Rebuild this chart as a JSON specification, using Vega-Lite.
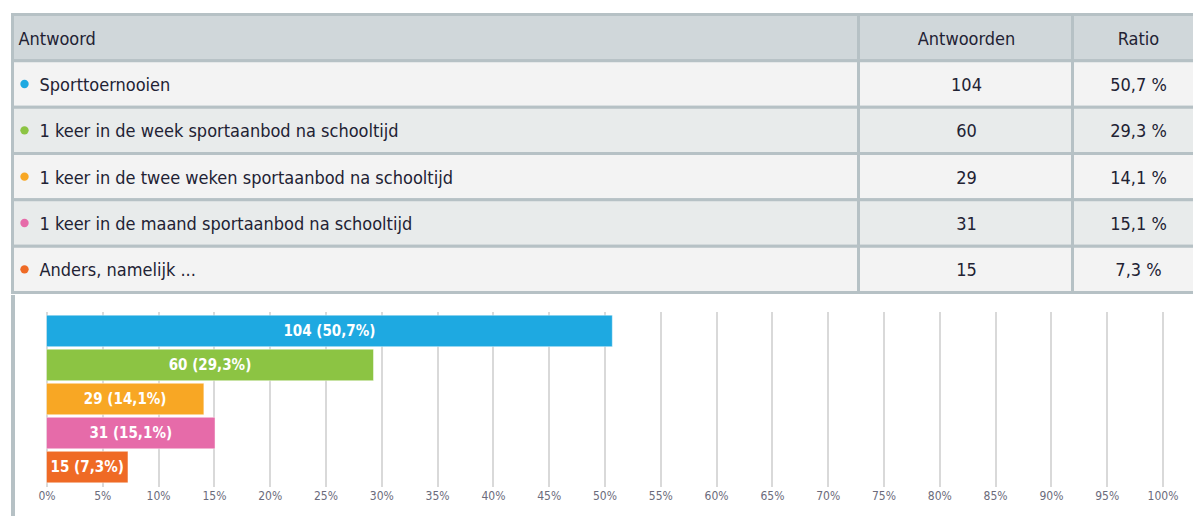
{
  "$schema": "https://vega.github.io/schema/vega-lite/v6.json",
  "padding": {"left": 10.5, "top": 12.5, "right": 0, "bottom": 0},
  "background": "#ffffff",
  "spacing": 0,
  "config": {
    "view": {"stroke": null},
    "font": "DejaVu Sans Condensed, Liberation Sans, sans-serif",
    "concat": {"spacing": 0}
  },
  "datasets": {
    "table": [
      {"key": "h", "c1": "Antwoord", "c2": "Antwoorden", "c3": "Ratio", "kind": "header", "answer": null},
      {"key": "1", "c1": "Sporttoernooien", "c2": "104", "c3": "50,7 %", "kind": "odd", "answer": "Sporttoernooien"},
      {"key": "2", "c1": "1 keer in de week sportaanbod na schooltijd", "c2": "60", "c3": "29,3 %", "kind": "even", "answer": "1 keer in de week sportaanbod na schooltijd"},
      {"key": "3", "c1": "1 keer in de twee weken sportaanbod na schooltijd", "c2": "29", "c3": "14,1 %", "kind": "odd", "answer": "1 keer in de twee weken sportaanbod na schooltijd"},
      {"key": "4", "c1": "1 keer in de maand sportaanbod na schooltijd", "c2": "31", "c3": "15,1 %", "kind": "even", "answer": "1 keer in de maand sportaanbod na schooltijd"},
      {"key": "5", "c1": "Anders, namelijk ...", "c2": "15", "c3": "7,3 %", "kind": "odd", "answer": "Anders, namelijk ..."}
    ],
    "answers": [
      {"answer": "Sporttoernooien", "count": 104, "ratio": 50.7, "label": "104 (50,7%)"},
      {"answer": "1 keer in de week sportaanbod na schooltijd", "count": 60, "ratio": 29.3, "label": "60 (29,3%)"},
      {"answer": "1 keer in de twee weken sportaanbod na schooltijd", "count": 29, "ratio": 14.1, "label": "29 (14,1%)"},
      {"answer": "1 keer in de maand sportaanbod na schooltijd", "count": 31, "ratio": 15.1, "label": "31 (15,1%)"},
      {"answer": "Anders, namelijk ...", "count": 15, "ratio": 7.3, "label": "15 (7,3%)"}
    ]
  },
  "vconcat": [
    {
      "spacing": 0,
      "bounds": "flush",
      "hconcat": [
        {
          "width": 846,
          "height": 278,
          "data": {"name": "table"},
          "layer": [
            {
              "mark": {"type": "rect", "stroke": "#b6c1c5", "strokeWidth": 3},
              "encoding": {
                "y": {"field": "key", "type": "nominal", "sort": null, "axis": null, "scale": {"paddingInner": 0, "paddingOuter": 0}},
                "fill": {"field": "kind", "type": "nominal", "legend": null, "scale": {"domain": ["header", "odd", "even"], "range": ["#d0d7da", "#f3f3f3", "#e8ebeb"]}}
              }
            },
            {
              "transform": [{"filter": "datum.kind == 'header'"}],
              "mark": {"type": "text", "align": "left", "baseline": "middle", "fontSize": 18, "color": "#222233", "x": 6, "dy": 2},
              "encoding": {
                "y": {"field": "key", "type": "nominal", "sort": null},
                "text": {"field": "c1"}
              }
            },
            {
              "transform": [{"filter": "datum.kind != 'header'"}],
              "mark": {"type": "text", "align": "left", "baseline": "middle", "fontSize": 18, "color": "#222233", "x": 27, "dy": 2},
              "encoding": {
                "y": {"field": "key", "type": "nominal", "sort": null},
                "text": {"field": "c1"}
              }
            },
            {
              "transform": [{"filter": "datum.kind != 'header'"}],
              "mark": {"type": "point", "filled": true, "opacity": 1, "size": 70, "x": 12, "dy": 1},
              "encoding": {
                "y": {"field": "key", "type": "nominal", "sort": null},
                "color": {"field": "answer", "type": "nominal", "legend": null, "scale": {"domain": ["Sporttoernooien", "1 keer in de week sportaanbod na schooltijd", "1 keer in de twee weken sportaanbod na schooltijd", "1 keer in de maand sportaanbod na schooltijd", "Anders, namelijk ..."], "range": ["#1ea9e1", "#8cc443", "#f8a724", "#e66ba9", "#ef6a25"]}}
              }
            }
          ]
        },
        {
          "width": 214,
          "height": 278,
          "data": {"name": "table"},
          "layer": [
            {
              "mark": {"type": "rect", "stroke": "#b6c1c5", "strokeWidth": 3},
              "encoding": {
                "y": {"field": "key", "type": "nominal", "sort": null, "axis": null, "scale": {"paddingInner": 0, "paddingOuter": 0}},
                "fill": {"field": "kind", "type": "nominal", "legend": null, "scale": {"domain": ["header", "odd", "even"], "range": ["#d0d7da", "#f3f3f3", "#e8ebeb"]}}
              }
            },
            {
              "mark": {"type": "text", "align": "center", "baseline": "middle", "fontSize": 18, "color": "#222233", "x": 108, "dy": 2},
              "encoding": {
                "y": {"field": "key", "type": "nominal", "sort": null},
                "text": {"field": "c2"}
              }
            }
          ]
        },
        {
          "width": 126,
          "height": 278,
          "data": {"name": "table"},
          "layer": [
            {
              "mark": {"type": "rect", "stroke": "#b6c1c5", "strokeWidth": 3},
              "encoding": {
                "y": {"field": "key", "type": "nominal", "sort": null, "axis": null, "scale": {"paddingInner": 0, "paddingOuter": 0}},
                "fill": {"field": "kind", "type": "nominal", "legend": null, "scale": {"domain": ["header", "odd", "even"], "range": ["#d0d7da", "#f3f3f3", "#e8ebeb"]}}
              }
            },
            {
              "mark": {"type": "text", "align": "center", "baseline": "middle", "fontSize": 18, "color": "#222233", "x": 66, "dy": 2},
              "encoding": {
                "y": {"field": "key", "type": "nominal", "sort": null},
                "text": {"field": "c3"}
              }
            }
          ]
        }
      ]
    },
    {
      "spacing": 22,
      "hconcat": [
        {
          "width": 1,
          "height": 226,
          "data": {"values": [{"v": 0}]},
          "mark": {"type": "text", "text": ""},
          "encoding": {},
          "view": {"fill": "#b6c1c5", "stroke": "#b6c1c5", "strokeWidth": 3}
        },
        {
          "spacing": 0,
          "bounds": "flush",
          "vconcat": [
            {
              "width": 1116,
              "height": 15,
              "data": {"values": [{"v": 0}]},
              "mark": {"type": "text", "text": ""},
              "encoding": {}
            },
            {
              "width": 1116,
              "height": 175,
              "data": {"name": "answers"},
              "layer": [
                {
                  "mark": {"type": "bar", "stroke": "#ffffff", "strokeOpacity": 0.45, "strokeWidth": 1},
                  "encoding": {
                    "y": {"field": "answer", "type": "nominal", "sort": null, "axis": null, "scale": {"paddingInner": 0.075, "paddingOuter": 0.107}},
                    "x": {
                      "field": "ratio", "type": "quantitative",
                      "scale": {"domain": [0, 100], "nice": false},
                      "axis": {
                        "values": [0, 5, 10, 15, 20, 25, 30, 35, 40, 45, 50, 55, 60, 65, 70, 75, 80, 85, 90, 95, 100],
                        "labelExpr": "datum.value + '%'",
                        "title": null,
                        "domain": false,
                        "ticks": false,
                        "grid": true,
                        "gridColor": "#cccccc",
                        "gridWidth": 1.5,
                        "labelFont": "DejaVu Sans Condensed, Liberation Sans, sans-serif",
                        "labelFontSize": 12,
                        "labelColor": "#6b6b7b",
                        "labelPadding": 4,
                        "labelFlush": false,
                        "labelOverlap": false
                      }
                    },
                    "color": {"field": "answer", "type": "nominal", "legend": null, "scale": {"domain": ["Sporttoernooien", "1 keer in de week sportaanbod na schooltijd", "1 keer in de twee weken sportaanbod na schooltijd", "1 keer in de maand sportaanbod na schooltijd", "Anders, namelijk ..."], "range": ["#1ea9e1", "#8cc443", "#f8a724", "#e66ba9", "#ef6a25"]}}
                  }
                },
                {
                  "mark": {"type": "text", "color": "#ffffff", "font": "DejaVu Sans Condensed, Liberation Sans, sans-serif", "fontWeight": "bold", "fontSize": 15, "baseline": "middle", "align": "center"},
                  "encoding": {
                    "y": {"field": "answer", "type": "nominal", "sort": null},
                    "x": {"field": "ratio", "type": "quantitative", "scale": {"domain": [0, 200], "nice": false}, "axis": null},
                    "text": {"field": "label"}
                  }
                }
              ],
              "resolve": {"scale": {"x": "independent"}}
            }
          ]
        }
      ]
    }
  ]
}
